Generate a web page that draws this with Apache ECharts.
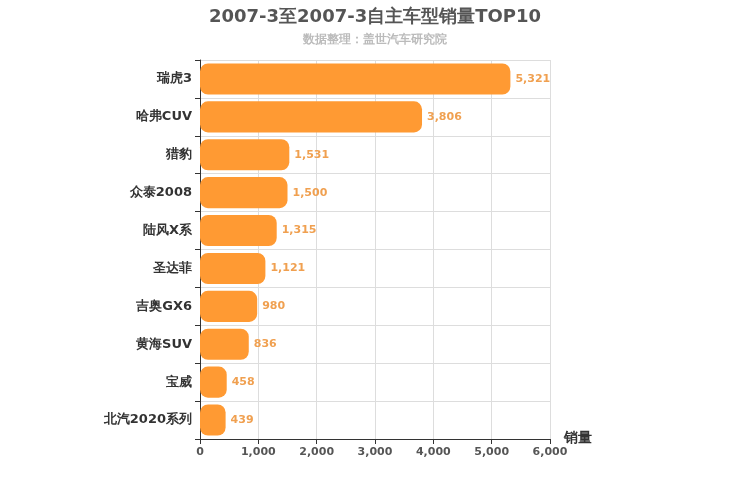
<!DOCTYPE html>
<html>
<head>
<meta charset="utf-8">
<script src="https://cdn.jsdelivr.net/npm/echarts@6/dist/echarts.min.js"></script>
<style>html,body{margin:0;padding:0;background:#fff}#container{width:750px;height:500px}</style>
</head>
<body>
<div id="container"></div>
<script>
var categories = ['瑞虎3', '哈弗CUV', '猎豹', '众泰2008', '陆风X系', '圣达菲', '吉奥GX6', '黄海SUV', '宝威', '北汽2020系列'];
var sales = [5321, 3806, 1531, 1500, 1315, 1121, 980, 836, 458, 439];

var myChart = echarts.init(document.getElementById('container'), null, { renderer: 'canvas' });

var option = {
    textStyle: { fontFamily: 'DejaVu Sans' },
    title: {
        text: '2007-3至2007-3自主车型销量TOP10',
        subtext: '数据整理：盖世汽车研究院',
        left: 'center',
        top: 3,
        itemGap: 8,
        textStyle: { fontSize: 18, fontWeight: 'bold', color: '#555', fontFamily: 'DejaVu Sans' },
        subtextStyle: { fontSize: 12, fontWeight: 'bold', color: '#bbb', fontFamily: 'DejaVu Sans' }
    },
    grid: { left: 200, right: 200, top: 60, bottom: 61 },
    xAxis: {
        type: 'value',
        min: 0, max: 6000, interval: 1000,
        name: '销量',
        nameLocation: 'end',
        nameGap: 14,
        nameTextStyle: { fontSize: 14, fontWeight: 'bold', color: '#333', verticalAlign: 'top', padding: [-8, 0, 0, 0] },
        axisLine: { show: true, lineStyle: { color: '#333' } },
        axisTick: { show: true },
        axisLabel: { color: '#555', fontWeight: 'bold', fontSize: 11 },
        splitLine: { lineStyle: { color: '#ddd' } }
    },
    yAxis: {
        type: 'category',
        data: categories,
        inverse: true,
        axisLine: { lineStyle: { color: '#333' } },
        axisTick: { show: true },
        axisLabel: { color: '#333', fontWeight: 'bold', fontSize: 13 },
        splitLine: { show: true, lineStyle: { color: '#ddd' } }
    },
    series: [{
        type: 'bar',
        data: sales,
        barWidth: '82%',
        itemStyle: { color: '#FF9A33', borderRadius: 8 },
        label: {
            show: true, position: 'right', color: '#F0A050', fontWeight: 'bold', fontSize: 11,
            formatter: function (p) { return p.value.toLocaleString('en-US'); }
        }
    }]
};

myChart.setOption(option);
</script>
</body>
</html>
